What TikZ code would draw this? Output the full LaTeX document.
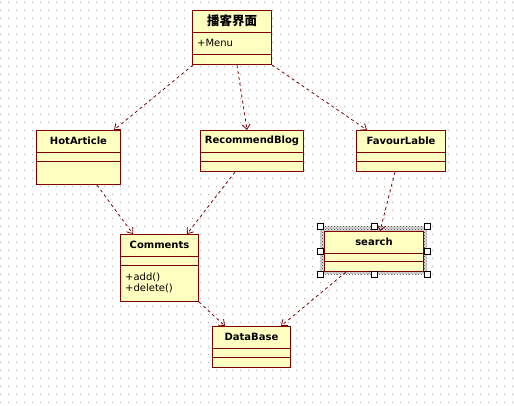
\documentclass[tikz,border=0pt]{standalone}
\usepackage{fontspec}
\setmainfont{DejaVu Sans}
\newfontfamily\cjkfont{Noto Sans CJK SC}
\usetikzlibrary{arrows.meta,patterns}

\definecolor{umlred}{RGB}{128,0,0}
\definecolor{umlfill}{RGB}{255,255,194}
\definecolor{griddot}{RGB}{170,170,170}

\tikzset{
	cls/.style={draw=umlred, fill=umlfill, line width=1pt, anchor=north west, inner sep=0pt},
	clsline/.style={draw=umlred, line width=1pt},
	clstitle/.style={font=\fontsize{10}{12}\selectfont\bfseries, inner sep=0pt},
	member/.style={font=\fontsize{10}{11}\selectfont, inner sep=0pt, anchor=west, align=left},
	dep/.style={draw=umlred, line width=0.8pt, dash pattern=on 3pt off 3pt,
		-{Straight Barb[length=5pt,width=8pt,line width=0.8pt]}},
	handle/.style={draw=black, fill=white, line width=0.9pt, minimum size=6pt, inner sep=0pt},
}

% box, title row and the two separators of one class
\newcommand{\umlclass}[6]{%
	\node[cls, minimum width=#3pt, minimum height=#4pt] (#1) at #2 {};
	\node[clstitle] (#1-title) at ([yshift=-11pt]#1.north) {#6};
	\draw[clsline] ([yshift=-22pt]#1.north west) -- ([yshift=-22pt]#1.north east);
	\draw[clsline] ([yshift=-22pt-#5pt]#1.north west) -- ([yshift=-22pt-#5pt]#1.north east);
}

\begin{document}
\begin{tikzpicture}[x=1pt, y=-1pt]
	\useasboundingbox (0,0) rectangle (514,405);
	% grid
	\foreach \i in {0,...,64}
		\foreach \j in {0,...,50}
			\fill[griddot] (8*\i,8*\j+2) rectangle ++(1,1);

	% selection frame round search
	\fill[gray!30] (320,226) rectangle (427,274);
	\fill[pattern=crosshatch dots, pattern color=black!75] (320,226) rectangle (427,274);

	\umlclass{top}{(192,10)}{79}{54}{22}{\cjkfont\bfseries\fontsize{12.5}{14}\selectfont 播客界面}
	\node[member] (top-attr) at ([xshift=5pt,yshift=-33pt]top.north west) {+Menu};
	\umlclass{hot}{(36,130)}{84}{54}{9}{HotArticle}
	\umlclass{rec}{(200,130)}{103}{41}{9}{RecommendBlog}
	\umlclass{fav}{(356,130)}{89}{41}{9}{FavourLable}
	\umlclass{com}{(120,234)}{78}{67}{9}{Comments}
	\node[member] (com-ops) at ([xshift=5pt,yshift=-49pt]com.north west) {+add()\\+delete()};
	\umlclass{search}{(324,231)}{99}{40}{8}{search}
	\umlclass{db}{(212,326)}{78}{41}{9}{DataBase}

	\foreach \p [count=\k] in {(320,226),(374,226),(427,226),(320,251),(427,251),(320,274),(374,274),(427,274)}
		\node[handle] (h\k) at \p {};

	% dependencies
	\draw[dep] ([xshift=1pt]top.south west) -- ([xshift=-7pt]hot.north east);
	\draw[dep] ([xshift=45pt]top.south west) -- ([xshift=47pt]rec.north west);
	\draw[dep] ([xshift=80pt]top.south west) -- ([xshift=11pt]fav.north west);
	\draw[dep] ([xshift=61pt]hot.south west) -- ([xshift=13pt]com.north west);
	\draw[dep] ([xshift=35pt]rec.south west) -- ([xshift=67pt]com.north west);
	\draw[dep] ([xshift=39pt]fav.south west) -- ([xshift=56pt]search.north west);
	\draw[dep] (com.south east) -- ([xshift=13pt]db.north west);
	\draw[dep] ([xshift=22pt]search.south west) -- ([xshift=69pt]db.north west);
\end{tikzpicture}
\end{document}
